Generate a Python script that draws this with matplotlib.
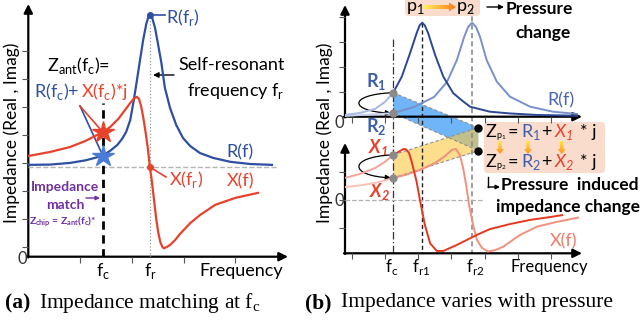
import numpy as np
import matplotlib
matplotlib.use('Agg')
import matplotlib.pyplot as plt
from matplotlib.patches import Polygon, FancyBboxPatch, FancyArrowPatch, FancyArrow
from matplotlib.path import Path
from matplotlib.colors import LinearSegmentedColormap

plt.rcParams['font.family'] = ['Lato', 'DejaVu Sans']

# ---------------- data (arbitrary units) ----------------
# panel (a): single antenna
fc_a = 1.44
fr_a = 2.35
f_R_a = [0.01, 0.42, 0.81, 1.10, 1.29, 1.44, 1.58, 1.72, 1.81, 1.89, 1.97, 2.04, 2.10, 2.16,
         2.22, 2.28, 2.32, 2.35, 2.39, 2.45, 2.51, 2.57, 2.64, 2.74, 2.86, 2.99, 3.13, 3.32,
         3.57, 3.90, 4.29, 4.71]
R_a = [3.28, 3.29, 3.35, 3.44, 3.53, 3.61, 3.78, 3.99, 4.20, 4.45, 4.88, 5.60, 6.31, 7.03,
       7.74, 8.31, 8.56, 8.63, 8.56, 8.17, 7.56, 6.95, 6.03, 5.31, 4.70, 4.24, 3.95, 3.70,
       3.53, 3.39, 3.31, 3.28]
f_X_a = [0.01, 0.42, 0.81, 1.10, 1.29, 1.44, 1.58, 1.74, 1.87, 1.97, 2.04, 2.10, 2.14, 2.18,
         2.22, 2.26, 2.31, 2.35, 2.39, 2.43, 2.47, 2.51, 2.55, 2.59, 2.62, 2.68, 2.74, 2.84,
         2.93, 3.13, 3.32, 3.61, 4.00, 4.44]
X_a = [3.60, 3.74, 3.92, 4.13, 4.31, 4.45, 4.63, 4.92, 5.24, 5.49, 5.65, 5.71, 5.63, 5.38,
       4.99, 4.53, 3.88, 3.20, 2.67, 2.03, 1.38, 0.88, 0.53, 0.35, 0.30, 0.35, 0.42, 0.60,
       0.81, 1.20, 1.49, 1.85, 2.10, 2.28]
zero_a = 3.20
xticks_a = [1, 2, 3, 4]
yticks_a = [0.35, 1.35, 2.35, 3.35, 4.35, 5.35, 6.35, 7.35]

# panel (b): pressure p1 -> p2
fc_b = 1.46
f_R1 = [0, 0.45, 0.91, 1.21, 1.46, 1.72, 1.97, 2.17, 2.26, 2.34, 2.42, 2.52, 2.73, 2.98,
        3.28, 3.59, 3.79, 4.39, 5.00, 5.82, 7.03]
R1_vals = [0.07, 0.15, 0.31, 0.59, 0.96, 1.60, 2.54, 3.34, 3.65, 3.76, 3.65, 3.34, 2.47, 1.60,
           0.94, 0.60, 0.40, 0.20, 0.13, 0.07, 0.04]
f_R2 = [0, 0.76, 1.46, 2.09, 2.70, 3.09, 3.39, 3.61, 3.73, 3.85, 3.97, 4.09, 4.29, 4.60,
        5.00, 5.61, 6.30, 7.03]
R2_vals = [0.03, 0.09, 0.14, 0.39, 0.79, 1.39, 2.27, 3.19, 3.59, 3.76, 3.59, 3.20, 2.27, 1.40,
           0.80, 0.40, 0.20, 0.11]
f_X1 = [0, 0.45, 0.91, 1.21, 1.46, 1.77, 1.85, 1.94, 2.02, 2.17, 2.27, 2.42, 2.58, 2.78,
        2.98, 3.38, 3.99, 4.39, 5.00, 5.61, 6.21, 6.58]
X1_vals = [0.79, 0.93, 1.14, 1.36, 1.61, 1.82, 1.81, 1.68, 1.37, 0.65, 0, -0.89, -1.55, -1.82,
           -1.82, -1.61, -1.25, -1.04, -0.86, -0.71, -0.61, -0.54]
f_X2 = [0, 0.45, 0.91, 1.21, 1.46, 1.82, 2.27, 2.73, 3.03, 3.24, 3.36, 3.48, 3.58, 3.67,
        3.76, 3.88, 4.00, 4.15, 4.33, 4.55, 4.79, 5.30, 5.82, 6.42, 7.06]
X2_vals = [0.46, 0.52, 0.61, 0.70, 0.79, 0.89, 1.07, 1.32, 1.57, 1.79, 1.82, 1.61, 1.14, 0.54,
           -0.18, -0.89, -1.43, -1.71, -1.84, -1.79, -1.67, -1.25, -0.95, -0.78, -0.63]
xticks_b = [0.21, 1.21, 2.21, 3.21, 4.24, 5.24, 6.24]
yticks_bt = [1, 2, 3, 4]
yticks_bb = [-1, 0, 1]

# colours
BLUE = '#2e4fa3'
RED = '#e8412c'
PURPLE = '#7030a0'
DBLUE, LBLUE = '#2b4796', '#7890cc'
DRED, LRED = '#e2391f', '#f2907e'
PEACH = '#f9dccb'

W, H = 642, 321
fig = plt.figure(figsize=(W / 100, H / 100), dpi=100)
ov = fig.add_axes([0, 0, 1, 1], zorder=0)
ov.set_xlim(0, W)
ov.set_ylim(H, 0)
ov.set_autoscale_on(False)
ov.axis('off')


def panel_axes(x0, x1, yb, yt, xlim, ylim):
    ax = fig.add_axes([x0 / W, (H - yb) / H, (x1 - x0) / W, (yb - yt) / H], zorder=2)
    ax.set_xlim(*xlim)
    ax.set_ylim(*ylim)
    ax.patch.set_alpha(0)
    for s in ax.spines.values():
        s.set_visible(False)
    ax.tick_params(direction='out', length=4, width=0.8, color='#555555',
                   labelbottom=False, labelleft=False)
    return ax


def to_ov(ax, x, y):
    return ov.transData.inverted().transform(ax.transData.transform((x, y)))


def txt(x, y, s, color='black', size=13, **kw):
    return ov.text(x, y, s, color=color, fontsize=size, va='center', **kw)


def axis_arrow(x0, y0, x1, y1):
    ov.annotate('', xy=(x1, y1), xytext=(x0, y0),
                arrowprops=dict(arrowstyle='-|>', color='black', lw=1.6,
                                mutation_scale=13, shrinkA=0, shrinkB=0))


def grad_arrow(x0, y0, x1, y1, width, head_w, head_len, colors):
    arr = FancyArrow(x0, y0, x1 - x0, y1 - y0, width=width, head_width=head_w,
                     head_length=head_len, length_includes_head=True,
                     fc='none', ec='none', transform=ov.transData)
    ov.add_patch(arr)
    g = np.linspace(0, 1, 64)
    cmap = LinearSegmentedColormap.from_list('g', colors)
    if abs(x1 - x0) > abs(y1 - y0):
        img = g[None, :]
        ext = (x0, x1, y0 + head_w, y0 - head_w)
    else:
        img = g[:, None]
        ext = (x0 - head_w, x0 + head_w, y1, y0)
    im = ov.imshow(img, cmap=cmap, extent=ext, aspect='auto', origin='upper', zorder=3)
    im.set_clip_path(arr)


# ---------------- panel (a) ----------------
ax_a = panel_axes(28.3, 287, 256.7, 4.7, (0, 5.0), (0, 9.0))
ax_a.set_xticks(xticks_a)
ax_a.set_yticks(yticks_a)
axis_arrow(27.5, 256.7, 288, 256.7)
axis_arrow(28.3, 257.5, 28.3, 4)

ax_a.plot([0, 4.8], [zero_a, zero_a], color='#b5b5b5', ls='--', lw=1)
Rr = max(R_a)
ax_a.plot([fr_a, fr_a], [0, Rr], color='#999999', ls=':', lw=0.9)
R_fc = np.interp(fc_a, f_R_a, R_a)
X_fc = np.interp(fc_a, f_X_a, X_a)
ax_a.plot([fc_a, fc_a], [0, 5.49], color='black', lw=2, dashes=(3, 2))
ax_a.plot(f_R_a, R_a, color=BLUE, lw=1.6)
ax_a.plot(f_X_a, X_a, color=RED, lw=1.6)
ax_a.plot(fc_a, R_fc, marker='*', ms=16, color='#4a7bd6', zorder=5)
ax_a.plot(fc_a, X_fc, marker='*', ms=16, color=RED, zorder=5)
ax_a.plot(fr_a, Rr, 'o', ms=4, color=BLUE)
X_fr = np.interp(fr_a, f_X_a, X_a)
ax_a.plot(fr_a, X_fr, 'o', ms=4, color=RED)

sb = to_ov(ax_a, fc_a, R_fc)
sr = to_ov(ax_a, fc_a, X_fc)
ov.plot([80, sb[0]], [106, sb[1]], color=BLUE, lw=1.2)
ov.plot([80, sr[0]], [106, sr[1]], color=RED, lw=1.2)
pk = to_ov(ax_a, fr_a, Rr)
ov.plot([pk[0], 165], [pk[1], pk[1]], color=BLUE, lw=1.2)
xr = to_ov(ax_a, fr_a, X_fr)
ov.plot([xr[0], 166], [xr[1], 177], color=RED, lw=1.2)

txt(47, 65, r'Z$_\mathregular{ant}$(f$_\mathregular{c}$)=')
txt(34, 91, r'R(f$_\mathregular{c}$)+', BLUE)
txt(81, 91, r'X(f$_\mathregular{c}$)*j', RED)
txt(166, 17, r'R(f$_\mathregular{r}$)', BLUE)
txt(232, 65, 'Self-resonant', ha='center')
txt(236, 91, r'frequency f$_\mathregular{r}$', ha='center')
ov.annotate('', xy=(153, 75), xytext=(174, 75),
            arrowprops=dict(arrowstyle='-|>', color='black', lw=1, mutation_scale=8,
                            shrinkA=0, shrinkB=0))
txt(240, 152, 'R(f)', BLUE, ha='center')
txt(169, 179, r'X(f$_\mathregular{r}$)', RED)
txt(241, 181, 'X(f)', RED, ha='center')
txt(65, 187, 'Impedance', PURPLE, size=10, weight='bold', ha='center')
txt(65, 205, 'match', PURPLE, size=10, weight='bold', ha='center')
ov.annotate('', xy=(100, 198), xytext=(86, 198),
            arrowprops=dict(arrowstyle='-|>', color=PURPLE, lw=1, mutation_scale=6,
                            shrinkA=0, shrinkB=0))
txt(63, 222, r'Z$_\mathregular{chip}$ = Z$_\mathregular{ant}$(f$_\mathregular{c}$)*', PURPLE,
    size=7.5, weight='bold', ha='center')
txt(22, 259, '0', '#333333', size=12, ha='center')
txt(103, 271, r'f$_\mathregular{c}$', ha='center')
txt(150, 271, r'f$_\mathregular{r}$', ha='center')
txt(241, 271, 'Frequency', ha='center')
txt(12, 133, 'Impedance (Real , Imag)', size=12.5, rotation=90, ha='center')

txt(5, 303, '(a)', size=15.5, family='Liberation Serif', weight='bold')
txt(39, 303, r'Impedance matching at f$_\mathregular{c}$', size=15.5, family='Liberation Serif')

# ---------------- panel (b) ----------------
ax_t = panel_axes(345, 580, 116.7, 6.7, (0, 7.12), (0, 4.4))
ax_b = panel_axes(345, 580, 253.3, 145, (0, 7.12), (-1.904, 1.964))
ax_t.set_xticks(xticks_b)
ax_t.set_yticks(yticks_bt)
ax_b.set_xticks(xticks_b)
ax_b.set_yticks(yticks_bb)
axis_arrow(344, 116.7, 582, 116.7)
axis_arrow(345, 117.5, 345, 5)
axis_arrow(344, 253.3, 582, 253.3)
axis_arrow(345, 254, 345, 143)

R1 = np.interp(fc_b, f_R1, R1_vals)
R2 = np.interp(fc_b, f_R2, R2_vals)
X1 = np.interp(fc_b, f_X1, X1_vals)
X2 = np.interp(fc_b, f_X2, X2_vals)
fr1 = f_R1[int(np.argmax(R1_vals))]
fr2 = f_R2[int(np.argmax(R2_vals))]

# vertical guides across both sub-axes
xc = to_ov(ax_t, fc_b, 0)[0]
x1p = to_ov(ax_t, fr1, 0)[0]
x2p = to_ov(ax_t, fr2, 0)[0]
ov.plot([xc, xc], [39, 253.3], color='#333333', lw=0.9, dashes=(6, 2, 1, 2))
ov.plot([x1p, x1p], [to_ov(ax_t, fr1, max(R1_vals))[1], 253.3], color='#222222', lw=1, dashes=(3, 2))
ov.plot([x2p, x2p], [8, 253.3], color='#8c8c8c', lw=1.2, dashes=(3, 2))
ax_b.plot([0, 4.18], [0, 0], color='#b0b0b0', ls='--', lw=0.9)

# shifted-parameter bands
Zp1 = (478.3, 127.7)
Zp2 = (478.3, 150.7)
P1, P2 = to_ov(ax_t, fc_b, R1), to_ov(ax_t, fc_b, R2)
Q1, Q2 = to_ov(ax_b, fc_b, X1), to_ov(ax_b, fc_b, X2)
ov.add_patch(Polygon([P1, Zp1, Zp2, P2], closed=True, fc='#3f9cf5', alpha=0.75, ec='none', zorder=1))
ov.add_patch(Polygon([Q1, Zp1, Zp2, Q2], closed=True, fc='#fbc842', alpha=0.6, ec='none', zorder=1))
for a, b in [(P1, Zp1), (P2, Zp2), (Q1, Zp1), (Q2, Zp2)]:
    ov.plot([a[0], b[0]], [a[1], b[1]], color='#8f8f8f', lw=0.8, dashes=(3, 2), zorder=1.5)


def split_plot(ax, f, v, c_left, c_right):
    f = np.asarray(f)
    v = np.asarray(v)
    left = f <= fc_b
    right = f >= fc_b
    ax.plot(f[left], v[left], color=c_left, lw=1.4)
    ax.plot(f[right], v[right], color=c_right, lw=1.4)


split_plot(ax_t, f_R2, R2_vals, '#c9d3ee', LBLUE)
split_plot(ax_t, f_R1, R1_vals, '#a9b8e0', DBLUE)
split_plot(ax_b, f_X2, X2_vals, '#f9c3b8', LRED)
split_plot(ax_b, f_X1, X1_vals, '#f4a497', DRED)

for ax, v in [(ax_t, R1), (ax_t, R2), (ax_b, X1), (ax_b, X2)]:
    ax.plot(fc_b, v, 'o', ms=5, color='#8a8a8a', zorder=5)
ov.plot([Zp1[0], Zp2[0]], [Zp1[1], Zp2[1]], 'o', ms=5, color='black', zorder=6)


def loop_arrow(a, b):
    p = Path([(a[0] - 1, a[1]), (a[0] - 45, a[1] + 2), (b[0] - 45, b[1] - 2), (b[0] - 2, b[1])],
             [Path.MOVETO, Path.CURVE4, Path.CURVE4, Path.CURVE4])
    ov.add_patch(FancyArrowPatch(path=p, arrowstyle='-|>', mutation_scale=8, lw=0.9,
                                 color='black', transform=ov.transData, zorder=4))


loop_arrow(P1, P2)
loop_arrow(Q1, Q2)

txt(376, 81, r'R$_\mathregular{1}$', '#3f5fae', size=13, weight='bold', ha='center')
txt(376, 126.5, r'R$_\mathregular{2}$', '#3f5fae', size=13, weight='bold', ha='center')
txt(378, 147, r'X$_\mathregular{1}$', RED, size=13, weight='bold', style='italic', ha='center')
txt(380, 191, r'X$_\mathregular{2}$', RED, size=13, weight='bold', style='italic', ha='center')
txt(561, 100, 'R(f)', '#4a66b0', ha='center')
txt(564, 241, 'X(f)', '#f07a66', ha='center')
txt(339, 123, '0', '#333333', size=12, ha='center')
txt(339, 201, '0', '#333333', size=12, ha='center')
txt(392, 267, r'f$_\mathregular{c}$', ha='center', size=12)
txt(421, 267, r'f$_\mathregular{r1}$', ha='center', size=12)
txt(475, 267, r'f$_\mathregular{r2}$', ha='center', size=12)
txt(549, 267, 'Frequency', ha='center', size=12)
txt(325, 133, 'Impedance (Real , Imag)', size=12.5, rotation=90, ha='center')

# pressure box
ov.add_patch(FancyBboxPatch((405, -6), 75, 22, boxstyle='round,pad=0,rounding_size=4',
                            fc=PEACH, ec='none', zorder=1))
txt(415, 7.5, r'p$_\mathregular{1}$', size=13, ha='center')
txt(465, 7.5, r'p$_\mathregular{2}$', size=13, ha='center')
grad_arrow(424, 7, 456, 7, 4, 9, 7, ['#fff25a', '#ff7a1a'])
ov.annotate('', xy=(504, 7), xytext=(487, 7),
            arrowprops=dict(arrowstyle='-|>', color='black', lw=1, mutation_scale=7,
                            shrinkA=0, shrinkB=0))
txt(506, 9, 'Pressure', size=12.5, weight='bold')
txt(543, 33, 'change', size=12.5, weight='bold', ha='center')

# impedance box
ov.add_patch(FancyBboxPatch((484, 122), 121, 51, boxstyle='round,pad=0,rounding_size=4',
                            fc=PEACH, ec='none', zorder=1))
for y, k in [(131.7, '1'), (161.7, '2')]:
    txt(485.5, y, 'Z', size=13)
    txt(496, y + 4.5, r'p$_\mathregular{%s}$' % k, size=6.5)
    txt(508, y, '=', size=13)
    txt(521, y, r'R$_\mathregular{%s}$' % k, '#3f5fae', size=13)
    txt(541, y, '+', size=13)
    txt(554, y, r'X$_\mathregular{%s}$' % k, RED, size=13, style='italic')
    txt(580, y, '* j', size=13)
for x in [500, 528, 561.7]:
    grad_arrow(x, 141, x, 154, 3.5, 8, 5, ['#ffe94a', '#ff8c1a'])

ov.plot([488, 488], [177, 187], color='black', lw=1)
ov.annotate('', xy=(500, 187), xytext=(488, 187),
            arrowprops=dict(arrowstyle='-|>', color='black', lw=1, mutation_scale=6,
                            shrinkA=0, shrinkB=0))
txt(501, 185, 'Pressure  induced', size=12.5, weight='bold')
txt(568, 207, 'impedance change', size=12.5, weight='bold', ha='center')

txt(305, 303, '(b)', size=15.5, family='Liberation Serif', weight='bold')
txt(341, 303, 'Impedance varies with pressure', size=15.5, family='Liberation Serif')

ov.set_xlim(0, W)
ov.set_ylim(H, 0)
fig.savefig('out.png', dpi=100)
